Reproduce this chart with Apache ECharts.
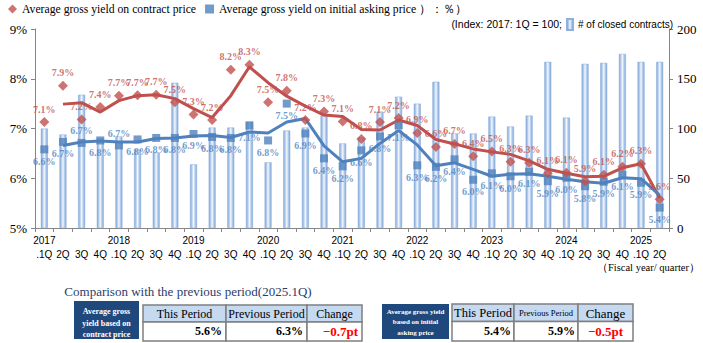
<!DOCTYPE html>
<html><head><meta charset="utf-8">
<script src="https://cdn.jsdelivr.net/npm/echarts@6/dist/echarts.min.js"></script>
<style>html,body{margin:0;padding:0;background:#fff}#c{width:703px;height:343px}</style>
</head><body><div id="c"></div>
<script>
// ---------- data ----------
const categories = [
  '2017\n.1Q','\n2Q','\n3Q','\n4Q',
  '2018\n.1Q','\n2Q','\n3Q','\n4Q',
  '2019\n.1Q','\n2Q','\n3Q','\n4Q',
  '2020\n.1Q','\n2Q','\n3Q','\n4Q',
  '2021\n.1Q','\n2Q','\n3Q','\n4Q',
  '2022\n.1Q','\n2Q','\n3Q','\n4Q',
  '2023\n.1Q','\n2Q','\n3Q','\n4Q',
  '2024\n.1Q','\n2Q','\n3Q','\n4Q',
  '2025\n.1Q','\n2Q'
];
// # of closed contracts (index, 2017 1Q = 100)
const closedContracts = [100,94,134,90,92,79,76,146,64,101,101,107,66,98,101,113,85,91,117,132,125,147,95,95,112,102,113,167,111,165,166,175,167,167];
// Average gross yield on contract price (%)
const contractYield = [7.13,7.86,7.18,7.43,7.66,7.67,7.68,7.53,7.28,7.17,8.18,8.28,7.53,7.76,7.17,7.34,7.14,6.79,7.13,7.21,6.91,6.63,6.69,6.44,6.54,6.33,6.31,6.10,6.11,5.94,6.07,6.23,6.29,5.58];
// Average gross yield on initial asking price (%)
const askingYield = [6.58,6.73,6.71,6.76,6.66,6.78,6.81,6.81,6.89,6.83,6.81,7.06,6.76,7.50,6.90,6.40,6.24,6.56,6.84,7.07,6.26,6.23,6.38,5.97,6.10,6.04,6.13,5.94,6.01,5.84,5.93,6.07,5.91,5.41];
// trend lines (as drawn)
const contractTrend = [null,7.49,7.52,7.33,7.56,7.66,7.68,7.60,7.40,7.22,7.66,8.24,7.92,7.65,7.45,7.27,7.24,6.98,6.97,7.17,7.06,6.78,6.69,6.59,6.53,6.48,6.35,6.18,6.10,6.03,6.04,6.21,6.29,5.60];
const askingTrend = [null,6.66,6.73,6.75,6.73,6.73,6.80,6.81,6.85,6.86,6.82,6.93,6.91,7.13,7.20,6.65,6.33,6.40,6.70,6.96,6.67,6.25,6.31,6.18,6.04,6.08,6.09,6.04,5.98,5.93,5.90,6.01,5.99,5.66];
const leftTicks = [5,6,7,8,9];
const rightTicks = [0,50,100,150,200];

const tableTitle = 'Comparison with the previous period(2025.1Q)';
const tableHeaders = ['This Period','Previous Period','Change'];
const contractRowName = ['Average gross','yield based on','contract price'];
const contractRow = ['5.6%','6.3%','\u22120.7pt'];
const askingRowName = ['Average gross yield','based on initial','asking price'];
const askingRow = ['5.4%','5.9%','\u22120.5pt'];

// ---------- styles ----------
const RED = '#c0504d', BLUE = '#4f81bd', AXIS = '#868686';
const SERIF = '"Liberation Serif","Times New Roman",serif';
const SANS = '"Liberation Sans",Arial,sans-serif';
const blueAboveIdx = [2,4];

const barGrad = new echarts.graphic.LinearGradient(0,0,1,0,[
  {offset:0,color:'#7fa6d9'},{offset:0.3,color:'#bcd2ef'},
  {offset:0.5,color:'#f6f9fe'},{offset:0.7,color:'#bcd2ef'},{offset:1,color:'#7fa6d9'}]);

const g = [];
function rect(x,y,w,h,fill,stroke){
  g.push({type:'rect',shape:{x,y,width:w,height:h},style:{fill,stroke:stroke||null,lineWidth:stroke?1.5:0},z:10});
}
function txt(x,y,text,font,fill,align){
  g.push({type:'text',x,y,style:{text,font,fill:fill||'#000',textAlign:align||'center',textVerticalAlign:'middle'},z:11});
}
// header legend text line 2
txt(562,24,'(Index: 2017: 1Q = 100;','10.5px '+SANS,'#000','right');
txt(700,267.5,'\uff08Fiscal year/ quarter\uff09','10.5px '+SERIF,'#000','right');
// table title
txt(188,291,tableTitle,'13px '+SERIF,'#2b3d6b','center');
// table 1
rect(74,301,65,38,'#1f497d');
contractRowName.forEach((s,i)=>txt(106.5,311.7+i*11.3,s,'bold 8px '+SERIF,'#fff'));
const t1x = [143,226,307,362];
for(let i=0;i<3;i++){
  rect(t1x[i],305,t1x[i+1]-t1x[i],17,'#c5d9f1','#7f7f7f');
  rect(t1x[i],322,t1x[i+1]-t1x[i],19,'#fff','#7f7f7f');
  txt((t1x[i]+t1x[i+1])/2,313.5,tableHeaders[i],'12px '+SERIF);
}
txt(222,331,contractRow[0],'bold 12px '+SERIF,'#000','right');
txt(303,331,contractRow[1],'bold 12px '+SERIF,'#000','right');
txt(358,331,contractRow[2],'bold 13px '+SERIF,'#ff0000','right');
// table 2
rect(382,304,67,35,'#1f497d');
askingRowName.forEach((s,i)=>txt(415.5,311.7+i*10.5,s,'bold 7px '+SERIF,'#fff'));
const t2x = [452,514,578,633];
const t2font = ['12.5px '+SERIF,'8.5px '+SERIF,'13px '+SERIF];
for(let i=0;i<3;i++){
  rect(t2x[i],304,t2x[i+1]-t2x[i],17.5,'#c5d9f1','#7f7f7f');
  rect(t2x[i],321.5,t2x[i+1]-t2x[i],19.5,'#fff','#7f7f7f');
  txt((t2x[i]+t2x[i+1])/2,313,tableHeaders[i],t2font[i]);
}
txt(511,331,askingRow[0],'bold 12px '+SERIF,'#000','right');
txt(575,331,askingRow[1],'bold 12px '+SERIF,'#000','right');
txt(605.5,331,askingRow[2],'bold 13px '+SERIF,'#ff0000','center');

const chart = echarts.init(document.getElementById('c'),null,{renderer:'svg'});
chart.setOption({
  animation:false,
  backgroundColor:'#fff',
  grid:{left:35,right:34,top:29,bottom:115,containLabel:false},
  legend:[{
    left:8,top:3,padding:0,itemWidth:9,itemHeight:9,itemGap:9,
    textStyle:{fontFamily:SERIF,fontSize:11.7,color:'#000'},
    data:[{name:'Average gross yield on contract price',icon:'diamond'},
          {name:'Average gross yield on initial asking price \uff09\uff1a\uff05\uff09',icon:'rect'}]
  },{
    left:566,top:18,padding:0,itemWidth:6,itemHeight:11,
    textStyle:{fontFamily:SANS,fontSize:10,color:'#000'},
    data:[{name:'# of closed contracts)',icon:'rect'}]
  }],
  xAxis:{
    type:'category',data:categories,boundaryGap:true,
    axisLine:{lineStyle:{color:AXIS,width:1}},
    axisTick:{show:true,length:4,lineStyle:{color:AXIS}},
    axisLabel:{interval:0,margin:6,fontFamily:SANS,fontSize:10,color:'#000',lineHeight:13.5}
  },
  yAxis:[{
    type:'value',min:leftTicks[0],max:leftTicks[leftTicks.length-1],interval:1,
    axisLine:{show:true,lineStyle:{color:AXIS}},
    axisTick:{show:true,length:4,lineStyle:{color:AXIS}},
    splitLine:{show:false},
    axisLabel:{formatter:'{value}%',margin:8,fontFamily:SERIF,fontSize:13,color:'#000'}
  },{
    type:'value',min:rightTicks[0],max:rightTicks[rightTicks.length-1],interval:50,position:'right',
    axisLine:{show:true,lineStyle:{color:AXIS}},
    axisTick:{show:true,length:4,lineStyle:{color:AXIS}},
    splitLine:{show:false},
    axisLabel:{margin:8,fontFamily:SERIF,fontSize:13,color:'#000'}
  }],
  series:[{
    name:'# of closed contracts)',type:'bar',yAxisIndex:1,data:closedContracts,barWidth:7,
    itemStyle:{color:barGrad,borderColor:'#8fb0dc',borderWidth:0.5},z:1
  },{
    name:'contractTrend',type:'line',data:contractTrend,symbol:'none',
    lineStyle:{color:RED,width:3},z:2
  },{
    name:'askingTrend',type:'line',data:askingTrend,symbol:'none',
    lineStyle:{color:BLUE,width:3},z:2
  },{
    name:'Average gross yield on contract price',type:'scatter',data:contractYield,
    symbol:'diamond',symbolSize:10,itemStyle:{color:RED},z:4,
    label:{show:true,position:'top',distance:3,color:RED,fontFamily:SERIF,fontWeight:'bold',fontSize:10,
      formatter:p=>p.value.toFixed(1)+'%'}
  },{
    name:'Average gross yield on initial asking price \uff09\uff1a\uff05\uff09',type:'scatter',
    data:askingYield.map((v,i)=>blueAboveIdx.includes(i)?{value:v,label:{position:'top'}}:v),
    symbol:'rect',symbolSize:8,itemStyle:{color:BLUE},z:3,
    label:{show:true,position:'bottom',distance:3,color:BLUE,fontFamily:SERIF,fontWeight:'bold',fontSize:10,
      formatter:p=>Number(p.value).toFixed(1)+'%'}
  }],
  graphic:g
});
</script></body></html>
